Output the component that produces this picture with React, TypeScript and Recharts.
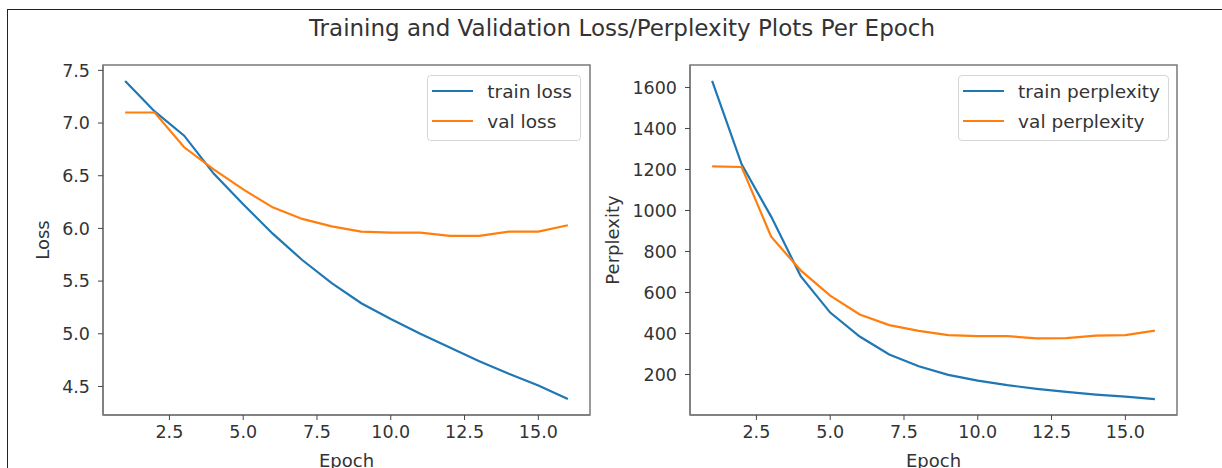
import React from 'react';
import {
  LineChart, Line, XAxis, YAxis, Legend, ReferenceArea,
} from 'recharts';

const epochs = [1, 2, 3, 4, 5, 6, 7, 8, 9, 10, 11, 12, 13, 14, 15, 16];
const trainLoss = [7.40, 7.11, 6.88, 6.52, 6.23, 5.95, 5.70, 5.48, 5.29, 5.14, 5.00, 4.87, 4.74, 4.62, 4.51, 4.38];
const valLoss = [7.10, 7.10, 6.77, 6.56, 6.37, 6.20, 6.09, 6.02, 5.97, 5.96, 5.96, 5.93, 5.93, 5.97, 5.97, 6.03];
const trainPerplexity = [1632, 1225, 970, 680, 502, 385, 298, 240, 198, 170, 148, 130, 115, 102, 92, 80];
const valPerplexity = [1215, 1212, 872, 708, 585, 493, 441, 413, 392, 387, 387, 376, 377, 390, 392, 414];

const epochTicks = [2.5, 5.0, 7.5, 10.0, 12.5, 15.0];
const lossTicks = [4.5, 5.0, 5.5, 6.0, 6.5, 7.0, 7.5];
const perplexityTicks = [200, 400, 600, 800, 1000, 1200, 1400, 1600];

const FONT = '"DejaVu Sans", sans-serif';
const BLUE = '#1f77b4';
const ORANGE = '#ff7f0e';
const SPINE = '#7a7a7a';
const TEXT = '#333';

// matplotlib-style 5% padding around the data
function padded(values: number[]): [number, number] {
  const lo = Math.min(...values);
  const hi = Math.max(...values);
  const m = (hi - lo) * 0.05;
  return [lo - m, hi + m];
}

const lossData = epochs.map((epoch, i) => ({ epoch, train: trainLoss[i], val: valLoss[i] }));
const perplexityData = epochs.map((epoch, i) => ({ epoch, train: trainPerplexity[i], val: valPerplexity[i] }));

function MplLegend({ payload }: any) {
  return (
    <div
      style={{
        background: '#fff',
        border: '1px solid #d6d6d6',
        borderRadius: 4,
        padding: '0 8px 4px 4px',
        fontFamily: FONT,
        fontSize: 18.5,
        color: TEXT,
      }}
    >
      {(payload || []).map((p: any) => (
        <div key={p.value} style={{ display: 'flex', alignItems: 'center', height: 30 }}>
          <span style={{ display: 'inline-block', width: 41, height: 2.5, background: p.color, marginRight: 14 }} />
          <span style={{ whiteSpace: 'nowrap' }}>{p.value}</span>
        </div>
      ))}
    </div>
  );
}

function YLabel({ viewBox, value, x }: any) {
  const cy = viewBox.y + viewBox.height / 2;
  return (
    <text
      x={x}
      y={cy}
      transform={`rotate(-90, ${x}, ${cy})`}
      textAnchor="middle"
      dominantBaseline="central"
      fontFamily={FONT}
      fontSize={18}
      fill={TEXT}
    >
      {value}
    </text>
  );
}

interface PanelProps {
  data: { epoch: number; train: number; val: number }[];
  yTicks: number[];
  yFormat: (v: number) => string;
  yLabel: string;
  yLabelX: number;
  trainName: string;
  valName: string;
  margin: { top: number; right: number; bottom: number; left: number };
  legendRight: number;
}

function Panel({ data, yTicks, yFormat, yLabel, yLabelX, trainName, valName, margin, legendRight }: PanelProps) {
  const xDomain = padded(data.map((d) => d.epoch));
  const yDomain = padded(data.flatMap((d) => [d.train, d.val]));
  const tick = { fill: TEXT, fontSize: 17.5, fontFamily: FONT };
  return (
    <LineChart width={600} height={468} data={data} margin={margin}>
      <XAxis
        type="number"
        dataKey="epoch"
        domain={xDomain}
        ticks={epochTicks}
        tickFormatter={(v) => Number(v).toFixed(1)}
        tick={tick}
        tickSize={5}
        tickMargin={6}
        height={30}
        axisLine={{ stroke: SPINE, strokeWidth: 1.5 }}
        tickLine={{ stroke: '#444' }}
        label={{ value: 'Epoch', position: 'insideBottom', offset: -22, fontFamily: FONT, fontSize: 18, fill: TEXT }}
      />
      <YAxis
        type="number"
        domain={yDomain}
        ticks={yTicks}
        tickFormatter={yFormat}
        tick={tick}
        tickSize={5}
        tickMargin={8}
        width={60}
        axisLine={{ stroke: SPINE, strokeWidth: 1.5 }}
        tickLine={{ stroke: '#444' }}
        label={(props: any) => <YLabel {...props} value={yLabel} x={yLabelX} />}
      />
      <ReferenceArea
        x1={xDomain[0]}
        x2={xDomain[1]}
        y1={yDomain[0]}
        y2={yDomain[1]}
        fill="none"
        stroke={SPINE}
        strokeWidth={1.5}
        ifOverflow="visible"
      />
      <Line type="linear" dataKey="train" name={trainName} stroke={BLUE} strokeWidth={2.2} dot={false} isAnimationActive={false} />
      <Line type="linear" dataKey="val" name={valName} stroke={ORANGE} strokeWidth={2.2} dot={false} isAnimationActive={false} />
      <Legend
        layout="vertical"
        align="center"
        verticalAlign="middle"
        content={<MplLegend />}
        wrapperStyle={{ top: 75, right: legendRight, left: 'auto', bottom: 'auto', width: 'auto' }}
      />
    </LineChart>
  );
}

export default function App() {
  return (
    <div style={{ position: 'absolute', left: 0, top: 0, width: 1222, height: 468, overflow: 'hidden', background: '#fff' }}>
      <div
        style={{
          position: 'absolute', left: 7, top: 9, width: 1300, height: 600,
          borderLeft: '1.5px solid #222', borderTop: '1.5px solid #222',
        }}
      />
      <div
        style={{
          position: 'absolute', left: 0, top: 15, width: 1244, textAlign: 'center',
          fontFamily: FONT, fontSize: 23, color: TEXT,
        }}
      >
        Training and Validation Loss/Perplexity Plots Per Epoch
      </div>
      <div style={{ position: 'absolute', left: 0, top: 0 }}>
        <Panel
          data={lossData}
          yTicks={lossTicks}
          yFormat={(v) => v.toFixed(1)}
          yLabel="Loss"
          yLabelX={42}
          trainName="train loss"
          valName="val loss"
          margin={{ top: 65, right: 10, bottom: 23, left: 43 }}
          legendRight={19}
        />
      </div>
      <div style={{ position: 'absolute', left: 600, top: 0 }}>
        <Panel
          data={perplexityData}
          yTicks={perplexityTicks}
          yFormat={(v) => String(v)}
          yLabel="Perplexity"
          yLabelX={12}
          trainName="train perplexity"
          valName="val perplexity"
          margin={{ top: 65, right: 23, bottom: 23, left: 30 }}
          legendRight={31}
        />
      </div>
    </div>
  );
}
